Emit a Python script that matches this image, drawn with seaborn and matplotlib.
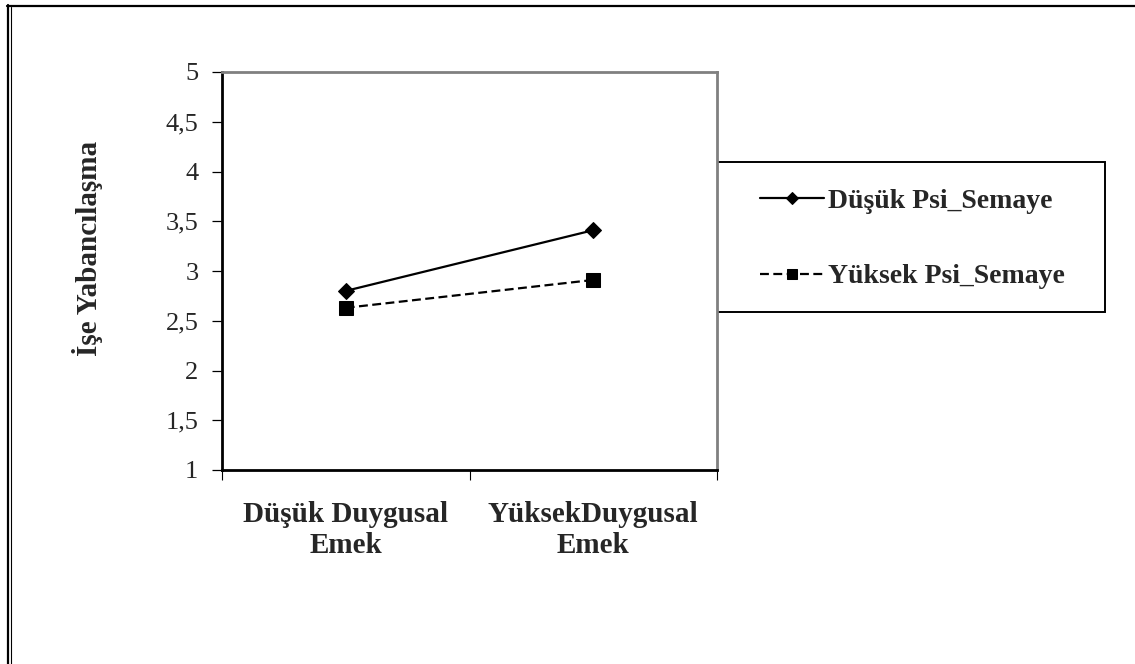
import matplotlib
matplotlib.use("Agg")
import matplotlib.pyplot as plt
from matplotlib.lines import Line2D
from matplotlib.patches import Rectangle
import seaborn as sns
import pandas as pd

# ---- data ----
categories = ["Düşük Duygusal\nEmek", "YüksekDuygusal\nEmek"]
dusuk_psi = [2.80, 3.41]
yuksek_psi = [2.63, 2.91]
series_names = ["Düşük Psi_Semaye", "Yüksek Psi_Semaye"]
y_ticks = [1, 1.5, 2, 2.5, 3, 3.5, 4, 4.5, 5]
y_tick_labels = ["1", "1,5", "2", "2,5", "3", "3,5", "4", "4,5", "5"]
y_label = "İşe Yabancılaşma"

sns.set_theme(style="white")
plt.rcParams["font.family"] = ["Liberation Serif", "DejaVu Serif"]

W, H = 1135, 664
fig = plt.figure(figsize=(W / 100, H / 100), dpi=100)
fig.patch.set_facecolor("white")
ax = fig.add_axes([222 / W, 1 - 470 / H, (717 - 222) / W, (470 - 72) / H])

df = pd.DataFrame({
    "kategori": categories * 2,
    "deger": dusuk_psi + yuksek_psi,
    "grup": [series_names[0]] * 2 + [series_names[1]] * 2,
})

styles = {
    series_names[0]: dict(marker="D", markersize=8, linestyle="-"),
    series_names[1]: dict(marker="s", markersize=10, linestyle=(0, (4, 2))),
}
for name in series_names:
    sub = df[df["grup"] == name]
    sns.lineplot(data=sub, x="kategori", y="deger", ax=ax, color="black",
                 linewidth=1.6, markeredgecolor="black", label=name,
                 sort=False, **styles[name])

ax.set_xlim(-0.5, 1.5)
ax.set_ylim(1, 5)
ax.set_yticks(y_ticks)
ax.set_yticklabels(y_tick_labels, fontsize=19)
ax.set_xticks([0, 1])
ax.set_xticklabels(categories, fontsize=21, fontweight="bold")
ax.set_xticks([-0.5, 0.5, 1.5], minor=True)
ax.tick_params(axis="x", which="major", length=0, pad=22)
ax.tick_params(axis="x", which="minor", length=7, width=0.8, color="black",
               direction="out", bottom=True)
ax.tick_params(axis="y", which="major", length=7, width=0.9, color="black",
               direction="out", left=True, pad=10)
ax.set_xlabel("")
ax.set_ylabel(y_label, fontsize=21, fontweight="bold")
ax.yaxis.set_label_coords((103 - 222) / 495, (470 - 248) / 398)

for side in ["left", "bottom"]:
    ax.spines[side].set_color("black")
    ax.spines[side].set_linewidth(2)
for side in ["top", "right"]:
    ax.spines[side].set_color("#808080")
    ax.spines[side].set_linewidth(2)
ax.grid(False)

# legend (frameless) plus its box
if ax.legend_:
    ax.legend_.remove()
handles, labels = ax.get_legend_handles_labels()
leg = fig.legend(handles, labels, loc="center left",
                 bbox_to_anchor=(760 / W, 1 - 239 / H),
                 bbox_transform=fig.transFigure, frameon=False,
                 borderpad=0, borderaxespad=0, handlelength=2.3,
                 handletextpad=0.15, labelspacing=1.8, markerscale=0.72,
                 prop={"family": "Liberation Serif", "weight": "bold", "size": 20})
fig.add_artist(Rectangle((716.5 / W, 1 - 312 / H), (1105 - 716.5) / W, 150 / H,
                         transform=fig.transFigure, fill=False,
                         edgecolor="black", linewidth=1.4, zorder=-1))

# outer page frame
fig.add_artist(Line2D([7 / W, 1], [1 - 6 / H, 1 - 6 / H], transform=fig.transFigure,
                      color="black", linewidth=1.6))
fig.add_artist(Line2D([8 / W, 8 / W], [0, 1 - 5 / H], transform=fig.transFigure,
                      color="black", linewidth=1.6))
fig.add_artist(Line2D([10.8 / W, 10.8 / W], [0, 1 - 7 / H], transform=fig.transFigure,
                      color="black", linewidth=0.8))

fig.savefig("out.png", dpi=100, facecolor="white")
